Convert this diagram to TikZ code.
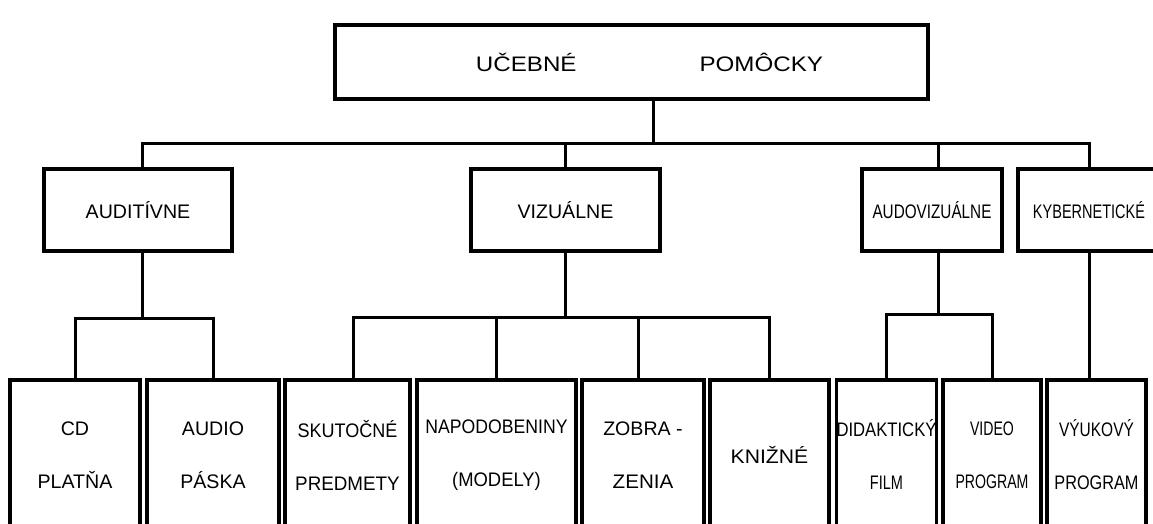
\documentclass[tikz,border=0pt]{standalone}
\usepackage{fontspec}
\setmainfont{Liberation Sans}
\newcommand{\sx}[2]{\scalebox{#1}[1]{#2}}
\begin{document}
\begin{tikzpicture}[x=0.5pt,y=-0.5pt,
  box/.style={draw, line width=1.7pt, inner sep=0pt, align=center,
    font=\fontsize{9.8}{26.5}\selectfont},
  midbox/.style={box, minimum height=41pt},
  lowbox/.style={box, minimum height=75pt},
  link/.style={line width=1.5pt}]
\useasboundingbox (0,0) rectangle (1153,524);
\clip (0,0) rectangle (1153,524);
% top
\node[box, minimum width=296.5pt, minimum height=37pt,
  font=\fontsize{10.5}{12}\selectfont] (top) at (631.5,62)
  {\hspace{18pt}\sx{1.15}{UČEBNÉ}\hspace{61.5pt}\sx{1.15}{POMÔCKY}};
% middle level
\node[midbox, minimum width=94pt] (aud) at (138,210) {AUDITÍVNE};
\node[midbox, minimum width=94.5pt] (viz) at (565.5,210) {VIZUÁLNE};
\node[midbox, minimum width=70pt] (av) at (932,210) {\sx{0.78}{AUDOVIZUÁLNE}};
\node[midbox, minimum width=71pt] (kyb) at (1089,210) {\sx{0.74}{KYBERNETICKÉ}};
% bottom level
\node[lowbox, minimum width=65pt] (b1) at (75,455) {CD\\PLATŇA};
\node[lowbox, minimum width=66pt] (b2) at (213,455) {AUDIO\\PÁSKA};
\node[lowbox, minimum width=62.5pt] (b3) at (347.5,455) {\sx{0.92}{SKUTOČNÉ}\\\sx{0.96}{PREDMETY}};
\node[lowbox, minimum width=79.5pt] (b4) at (496.5,455) {\sx{0.9}{NAPODOBENINY}\\\sx{0.94}{(MODELY)}};
\node[lowbox, minimum width=61pt] (b5) at (643,455) {ZOBRA -\\\sx{1.05}{ZENIA}};
\node[lowbox, minimum width=59.5pt] (b6) at (769.5,455) {\sx{1.08}{KNIŽNÉ}};
\node[lowbox, minimum width=49.5pt] (b7) at (886.5,455) {\sx{0.85}{DIDAKTICKÝ}\\\sx{0.74}{FILM}};
\node[lowbox, minimum width=49pt] (b8) at (992,455) {\sx{0.72}{VIDEO}\\\sx{0.72}{PROGRAM}};
\node[lowbox, minimum width=49.5pt] (b9) at (1096.5,455) {\sx{0.79}{VÝUKOVÝ}\\\sx{0.83}{PROGRAM}};
% connectors
\coordinate (j0) at (653,144);
\draw[link] (top.south -| j0) -- (j0);
\draw[link] ([xshift=2pt]aud.north) |- (j0) -| (kyb.north);
\draw[link] (viz.north) -- (viz.north |- j0);
\draw[link] ([xshift=3pt]av.north) -- ([xshift=3pt]av.north |- j0);
\draw[link] ([xshift=2pt]aud.south) -- ++(0,66) coordinate (ja);
\draw[link] (b1.north) |- (ja) -| (b2.north);
\draw[link] (viz.south) -- ++(0,65) coordinate (jv);
\draw[link] ([xshift=3pt]b3.north) |- (jv) -| (b6.north);
\draw[link] (b4.north) -- (b4.north |- jv);
\draw[link] ([xshift=-2.5pt]b5.north) -- ([xshift=-2.5pt]b5.north |- jv);
\draw[link] ([xshift=3pt]av.south) -- ++(0,62) coordinate (jav);
\draw[link] (b7.north) |- (jav) -| (b8.north);
\draw[link] (kyb.south) -- (kyb.south |- b9.north);
\end{tikzpicture}
\end{document}
